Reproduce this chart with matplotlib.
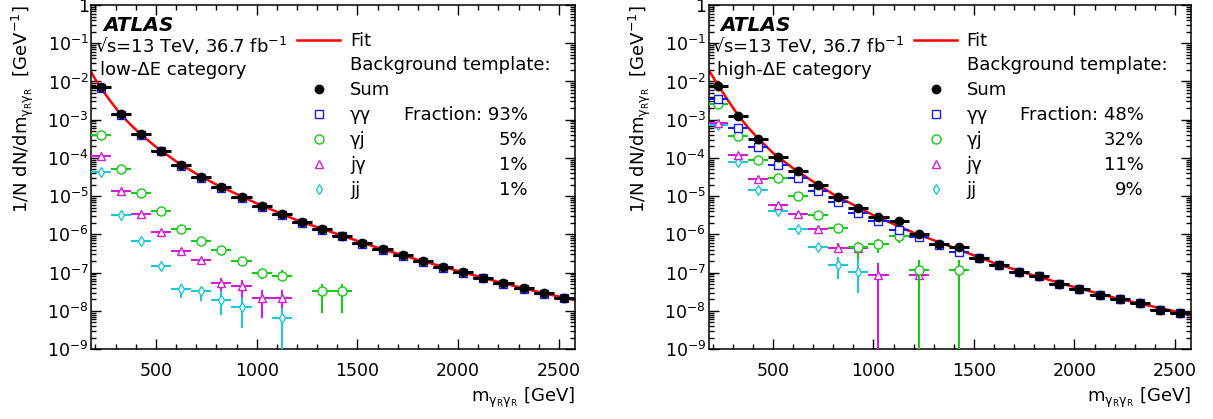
import numpy as np
import matplotlib
matplotlib.use('Agg')
import matplotlib.pyplot as plt
from matplotlib.ticker import LogLocator, MultipleLocator, FuncFormatter, NullFormatter

plt.rcParams['font.family'] = ['DejaVu Sans']
plt.rcParams['mathtext.fontset'] = 'dejavusans'

# bin centres [GeV], bins are 100 GeV wide
mass = [225, 325, 425, 525, 625, 725, 825, 925, 1025, 1125, 1225, 1325,
        1425, 1525, 1625, 1725, 1825, 1925, 2025, 2125, 2225, 2325, 2425, 2525]
half_bin = 50

# ---- low-dE category ----
low_sum = [7.0e-3, 1.37e-3, 4.1e-4, 1.55e-4, 6.6e-5, 3.2e-5, 1.7e-5, 9.6e-6,
           5.6e-6, 3.4e-6, 2.1e-6, 1.37e-6, 9.3e-7, 6.0e-7, 4.1e-7, 2.8e-7,
           2.0e-7, 1.4e-7, 1.02e-7, 7.4e-8, 5.3e-8, 3.9e-8, 2.9e-8, 2.2e-8]
low_gg = [6.7e-3, 1.31e-3, 3.9e-4, 1.48e-4, 6.3e-5, 3.05e-5, 1.62e-5, 9.2e-6,
          5.35e-6, 3.25e-6, 2.0e-6, 1.31e-6, 8.9e-7, 5.75e-7, 3.95e-7, 2.7e-7,
          1.93e-7, 1.35e-7, 9.8e-8, 7.1e-8, 5.1e-8, 3.75e-8, 2.8e-8, 2.1e-8]
low_gj_x = [225, 325, 425, 525, 625, 725, 825, 925, 1025, 1125, 1325, 1425]
low_gj = [4.0e-4, 5.1e-5, 1.22e-5, 4.1e-6, 1.42e-6, 6.6e-7, 3.8e-7, 2.0e-7,
          9.5e-8, 7.9e-8, 3.2e-8, 3.2e-8]
low_gj_err = {1025: (6.6e-8, 1.23e-7), 1125: (5.9e-8, 1.17e-7),
              1325: (8.9e-9, 4.9e-8), 1425: (8.9e-9, 4.9e-8)}
low_jg_x = [225, 325, 425, 525, 625, 725, 825, 925, 1025, 1125]
low_jg = [1.12e-4, 1.38e-5, 3.4e-6, 1.12e-6, 3.6e-7, 2.1e-7, 5.5e-8, 4.4e-8,
          2.2e-8, 2.2e-8]
low_jg_err = {825: (3.3e-8, 7.4e-8), 925: (2.3e-8, 6.3e-8),
              1025: (6.6e-9, 3.6e-8), 1125: (1.2e-8, 3.6e-8)}
low_jj_x = [225, 325, 425, 525, 625, 725, 825, 925, 1125]
low_jj = [4.2e-5, 3.3e-6, 6.6e-7, 1.5e-7, 3.7e-8, 3.2e-8, 1.9e-8, 1.26e-8, 6.3e-9]
low_jj_err = {625: (2.2e-8, 5.1e-8), 725: (1.8e-8, 4.3e-8),
              825: (7.9e-9, 3.3e-8), 925: (3.5e-9, 2.3e-8),
              1125: (1e-10, 1.23e-8)}
low_frac = ['93%', '5%', '1%', '1%']

# ---- high-dE category ----
high_sum = [7.8e-3, 1.24e-3, 3.2e-4, 1.07e-4, 4.5e-5, 1.9e-5, 9.3e-6, 5.0e-6,
            2.9e-6, 2.2e-6, 1.03e-6, 5.6e-7, 4.6e-7, 2.4e-7, 1.55e-7, 1.02e-7,
            7.9e-8, 5.1e-8, 3.7e-8, 2.6e-8, 2.0e-8, 1.58e-8, 1.07e-8, 8.9e-9]
high_gg = [3.5e-3, 6.2e-4, 1.9e-4, 6.7e-5, 2.9e-5, 1.38e-5, 7.1e-6, 3.7e-6,
           2.2e-6, 1.34e-6, 8.3e-7, 5.4e-7, 3.4e-7, 2.4e-7, 1.55e-7, 1.02e-7,
           7.9e-8, 5.1e-8, 3.7e-8, 2.6e-8, 2.0e-8, 1.58e-8, 1.07e-8, 8.9e-9]
high_gj_x = [225, 325, 425, 525, 625, 725, 825, 925, 1025, 1125, 1225, 1425]
high_gj = [2.5e-3, 3.8e-4, 9.0e-5, 2.9e-5, 1.02e-5, 3.2e-6, 1.48e-6, 4.8e-7,
           5.6e-7, 9.0e-7, 1.15e-7, 1.15e-7]
high_gj_err = {925: (2.3e-7, 6.2e-7), 1025: (3.2e-7, 7.4e-7),
               1125: (5.8e-7, 1.3e-6), 1225: (1e-10, 2.1e-7),
               1425: (1e-10, 2.1e-7)}
high_jg_x = [225, 325, 425, 525, 625, 725, 825, 925, 1025, 1225]
high_jg = [8.3e-4, 1.18e-4, 2.8e-5, 5.8e-6, 3.4e-6, 1.38e-6, 4.4e-7, 4.4e-7,
           8.7e-8, 8.7e-8]
high_jg_err = {825: (3.2e-7, 6.0e-7), 925: (2.2e-7, 6.3e-7),
               1025: (1e-10, 1.8e-7), 1225: (1e-10, 2.1e-7)}
high_jj_x = [225, 325, 425, 525, 625, 725, 825, 925]
high_jj = [7.2e-4, 8.0e-5, 1.44e-5, 4.2e-6, 1.35e-6, 4.6e-7, 1.55e-7, 1.05e-7]
high_jj_err = {825: (6.6e-8, 2.5e-7), 925: (2.9e-8, 2.2e-7)}
high_frac = ['48%', '32%', '11%', '9%']

fit_x = [180, 200, 225, 250, 275, 300, 325, 375, 425, 500, 600, 700, 800,
         1000, 1200, 1400, 1600, 1800, 2000, 2200, 2400, 2580]
low_fit = [1.70e-2, 1.12e-2, 7.0e-3, 4.57e-3, 3.02e-3, 2.04e-3, 1.38e-3, 7.33e-4,
           4.12e-4, 1.95e-4, 8.13e-5, 3.85e-5, 2.0e-5, 6.46e-6, 2.34e-6, 1.02e-6,
           4.47e-7, 2.16e-7, 1.10e-7, 5.69e-8, 3.09e-8, 1.91e-8]
high_fit = [2.0e-2, 1.35e-2, 8.3e-3, 5.19e-3, 3.27e-3, 2.09e-3, 1.35e-3, 6.31e-4,
            3.31e-4, 1.35e-4, 5.37e-5, 2.40e-5, 1.12e-5, 3.16e-6, 1.10e-6, 4.47e-7,
            1.78e-7, 8.32e-8, 4.17e-8, 2.19e-8, 1.26e-8, 7.76e-9]

C_GG = '#1a1ae0'
C_GJ = '#19c819'
C_JG = '#d21ed2'
C_JJ = '#1ec8d2'
C_FIT = '#ff0000'

XLAB = r'$\mathregular{m_{γ_{R}γ_{R}}}$ [GeV]'
YLAB = r'1/N dN/d$\mathregular{m_{γ_{R}γ_{R}}}$  [GeV$^{\mathregular{-1}}$]'
FS = 13


def series(ax, x, y, errs, color, marker, ms, lw, z):
    x = np.array(x, dtype=float)
    y = np.array(y, dtype=float)
    lo = np.array([errs.get(int(m), (v, v))[0] for m, v in zip(x, y)])
    hi = np.array([errs.get(int(m), (v, v))[1] for m, v in zip(x, y)])
    ax.errorbar(x, y, xerr=half_bin, yerr=[y - lo, hi - y], fmt=marker,
                color=color, mec=color, mfc='white', ms=ms, mew=1.0,
                elinewidth=lw, capsize=0, zorder=z)


def ytick(v, pos):
    e = int(round(np.log10(v)))
    if e == 0:
        return '1'
    return r'$\mathregular{10^{%d}}$' % e


def fy(px):
    # axes fraction from a pixel row of the 344 px tall frame (top at row 5)
    return 1 - (px - 5) / 344.0


def panel(ax, s, gg, gjx, gj, gje, jgx, jg, jge, jjx, jj, jje, fit, cat, fracs):
    ax.plot(fit_x, fit, color=C_FIT, lw=1.8, zorder=2)
    series(ax, jjx, jj, jje, C_JJ, 'd', 5.5, 1.5, 3)
    series(ax, jgx, jg, jge, C_JG, '^', 6, 1.5, 3.2)
    series(ax, gjx, gj, gje, C_GJ, 'o', 6.5, 1.5, 3.4)
    series(ax, mass, gg, {}, C_GG, 's', 6, 1.5, 3.6)
    ax.errorbar(mass, s, xerr=half_bin, fmt='o', color='black', ms=6,
                elinewidth=2.2, capsize=0, zorder=5)

    ax.set_yscale('log')
    ax.set_xlim(180, 2580)
    ax.set_ylim(1e-9, 1)
    ax.xaxis.set_major_locator(MultipleLocator(500))
    ax.xaxis.set_minor_locator(MultipleLocator(100))
    ax.yaxis.set_major_locator(LogLocator(base=10, numticks=20))
    ax.yaxis.set_minor_locator(LogLocator(base=10, subs=np.arange(2, 10), numticks=200))
    ax.yaxis.set_major_formatter(FuncFormatter(ytick))
    ax.yaxis.set_minor_formatter(NullFormatter())
    ax.tick_params(which='both', direction='in', top=True, right=True, width=1.0)
    ax.tick_params(which='major', length=7, labelsize=12.5)
    ax.tick_params(axis='x', which='major', pad=9.5)
    ax.tick_params(axis='y', which='major', pad=2)
    ax.tick_params(which='minor', length=3.5)
    for sp in ax.spines.values():
        sp.set_linewidth(1.1)

    ax.set_xlabel(XLAB, fontsize=FS, loc='right')
    ax.xaxis.label.set_va('top')
    ax.xaxis.set_label_coords(1.0, -0.107)
    ax.set_ylabel(YLAB, fontsize=FS, loc='top')
    ax.yaxis.label.set_va('center')
    ax.yaxis.set_label_coords(-0.142, 1.0)

    tr = ax.transAxes
    ax.text(0.024, fy(31), 'ATLAS', transform=tr, fontsize=14.5,
            fontweight='bold', fontstyle='italic', va='baseline')
    ax.text(0.008, fy(53), '√s=13 TeV, 36.7 fb$^{\\mathregular{-1}}$',
            transform=tr, fontsize=FS, va='baseline')
    ax.text(0.017, fy(75), cat, transform=tr, fontsize=FS, va='baseline')

    # legend
    ax.plot([0.425, 0.514], [fy(40), fy(40)], transform=tr, color=C_FIT, lw=1.8)
    ax.text(0.535, fy(45.7), 'Fit', transform=tr, fontsize=FS, va='baseline')
    ax.text(0.535, fy(70), 'Background template:', transform=tr,
            fontsize=FS, va='baseline')
    rows = [('Sum', 'o', 'black', 'black', 6),
            ('γγ', 's', C_GG, 'white', 6),
            ('γj', 'o', C_GJ, 'white', 6.5),
            ('jγ', '^', C_JG, 'white', 6),
            ('jj', 'd', C_JJ, 'white', 5.5)]
    base = [95, 120, 145, 170, 195]
    for (lab, mk, col, fc, ms), b in zip(rows, base):
        ax.plot([0.471], [fy(b - 6)], marker=mk, color=col, mfc=fc, mec=col,
                ms=ms, mew=1.0, transform=tr, ls='none')
        ax.text(0.535, fy(b), lab, transform=tr, fontsize=FS, va='baseline')
    for i, (f, b) in enumerate(zip(fracs, base[1:])):
        txt = 'Fraction: ' + f if i == 0 else f
        ax.text(0.902, fy(b), txt, transform=tr, fontsize=FS,
                va='baseline', ha='right')


fig = plt.figure(figsize=(12.13, 4.19), dpi=100)
ax1 = fig.add_axes([0.0754, 0.167, 0.3986, 0.821])
ax2 = fig.add_axes([0.5842, 0.167, 0.3977, 0.821])

panel(ax1, low_sum, low_gg, low_gj_x, low_gj, low_gj_err, low_jg_x, low_jg,
      low_jg_err, low_jj_x, low_jj, low_jj_err, low_fit, 'low-ΔE category', low_frac)
panel(ax2, high_sum, high_gg, high_gj_x, high_gj, high_gj_err, high_jg_x, high_jg,
      high_jg_err, high_jj_x, high_jj, high_jj_err, high_fit, 'high-ΔE category', high_frac)

fig.savefig('out.png', dpi=100)
